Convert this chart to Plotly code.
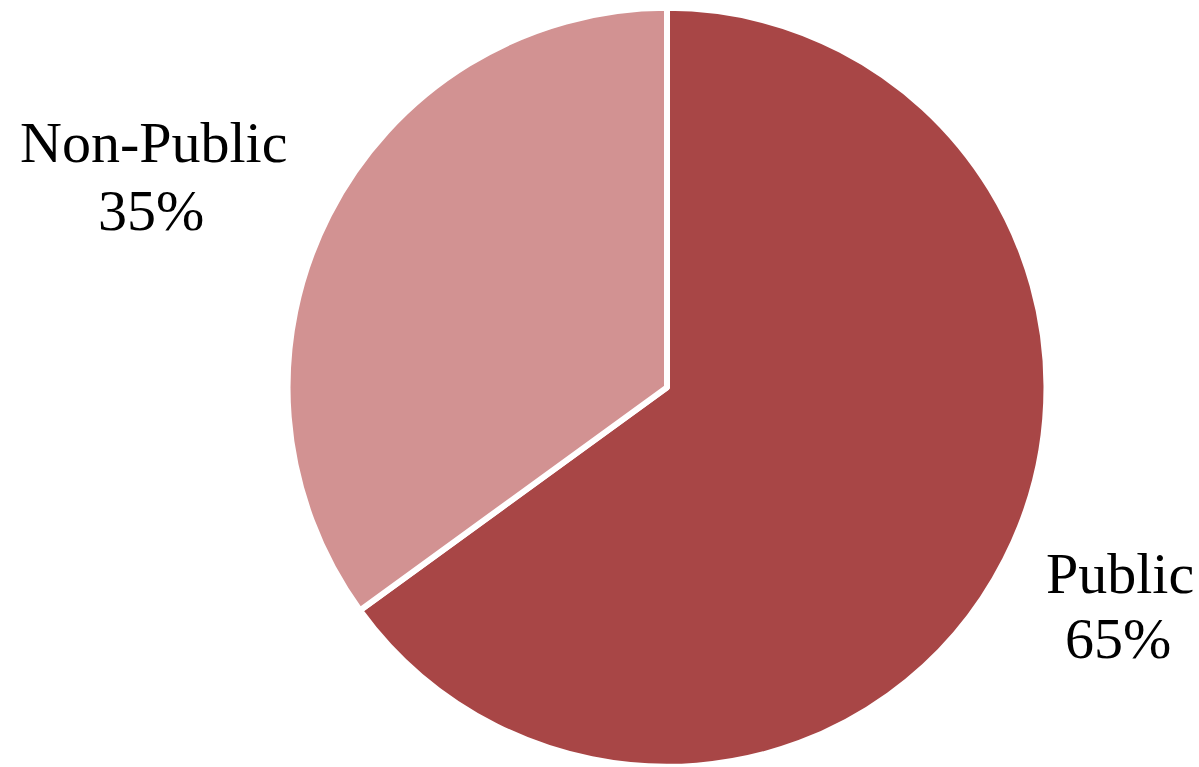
import plotly.graph_objects as go

# Share of respondents by sector
labels = ["Public", "Non-Public"]
shares = [65, 35]
colors = ["#A84646", "#D29292"]

W, H = 1199, 767

fig = go.Figure(
    go.Pie(
        labels=labels,
        values=shares,
        sort=False,
        direction="clockwise",
        rotation=0,
        marker=dict(colors=colors, line=dict(color="white", width=6)),
        textinfo="none",
        showlegend=False,
        hoverinfo="label+percent",
        domain=dict(x=[0.2398, 0.8728], y=[0.0, 0.99]),
    )
)

# Label block placement (pixel centres of the name line and the percent line)
label_pos = {
    "Public": ((1120, 573), (1118, 638)),
    "Non-Public": ((153, 143), (151, 210)),
}
label_font = dict(family="Liberation Serif, Times New Roman, serif", size=58, color="black")

total = sum(shares)
for name, value in zip(labels, shares):
    (nx, ny), (vx, vy) = label_pos[name]
    for text, (x, y) in ((name, (nx, ny)), (f"{round(100 * value / total)}%", (vx, vy))):
        fig.add_annotation(
            x=x / W, y=1 - y / H, xref="paper", yref="paper",
            text=text, showarrow=False, font=label_font,
            xanchor="center", yanchor="middle", borderpad=0,
        )

fig.update_layout(
    width=W,
    height=H,
    margin=dict(l=0, r=0, t=0, b=0),
    paper_bgcolor="white",
    plot_bgcolor="white",
)

fig.write_html("out.html")
